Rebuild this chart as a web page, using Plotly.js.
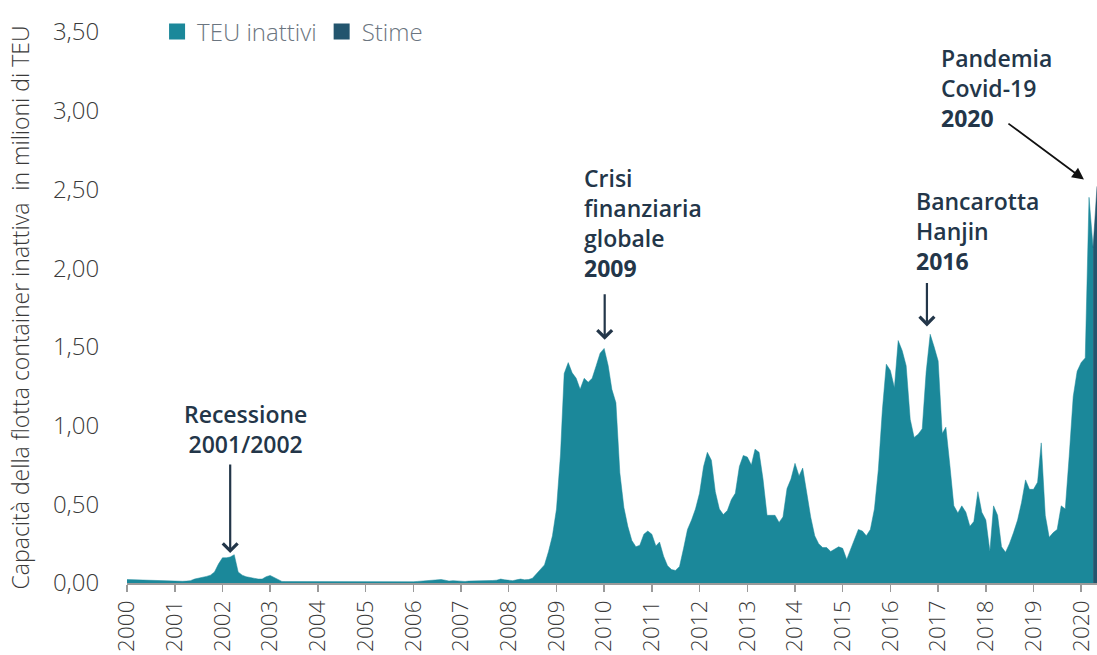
<!DOCTYPE html>
<html>
<head>
<meta charset="utf-8">
<script src="https://cdn.plot.ly/plotly-3.0.1.min.js"></script>
<style>
html,body{margin:0;padding:0;background:#fff;}
#chart{width:1097px;height:655px;}
</style>
</head>
<body>
<div id="chart"></div>
<script>
// Monthly idle container capacity (million TEU), Jan 2000 onwards
const startYear = 2000;
const idle2000 = [0.022,0.021,0.020,0.019,0.018,0.016,0.015,0.014,0.013,0.013,0.012,0.012];
const idle2001 = [0.013,0.012,0.011,0.012,0.015,0.025,0.030,0.035,0.042,0.050,0.070,0.120];
const idle2002 = [0.160,0.160,0.165,0.180,0.070,0.050,0.040,0.035,0.030,0.025,0.025,0.040];
const idle2003 = [0.048,0.035,0.018,0.010,0.009,0.009,0.008,0.008,0.008,0.008,0.008,0.008];
const idle2004 = [0.007,0.007,0.007,0.007,0.006,0.006,0.006,0.006,0.006,0.006,0.006,0.006];
const idle2005 = [0.005,0.005,0.005,0.005,0.005,0.005,0.005,0.005,0.005,0.005,0.006,0.006];
const idle2006 = [0.008,0.010,0.012,0.012,0.015,0.018,0.020,0.022,0.018,0.012,0.015,0.012];
const idle2007 = [0.010,0.010,0.012,0.012,0.013,0.014,0.015,0.015,0.016,0.018,0.025,0.020];
const idle2008 = [0.018,0.015,0.020,0.025,0.020,0.022,0.030,0.060,0.090,0.115,0.200,0.300];
const idle2009 = [0.470,0.820,1.330,1.400,1.335,1.300,1.230,1.300,1.275,1.300,1.380,1.460];
const idle2010 = [1.490,1.380,1.230,1.145,0.700,0.480,0.360,0.270,0.230,0.240,0.310,0.330];
const idle2011 = [0.310,0.235,0.260,0.170,0.110,0.085,0.080,0.105,0.220,0.340,0.400,0.470];
const idle2012 = [0.570,0.740,0.830,0.780,0.580,0.470,0.435,0.460,0.530,0.570,0.740,0.810];
const idle2013 = [0.800,0.750,0.850,0.830,0.660,0.430,0.430,0.430,0.385,0.420,0.600,0.660];
const idle2014 = [0.760,0.680,0.730,0.570,0.420,0.300,0.250,0.225,0.225,0.200,0.215,0.230];
const idle2015 = [0.220,0.150,0.210,0.280,0.340,0.330,0.300,0.340,0.470,0.720,1.100,1.390];
const idle2016 = [1.350,1.240,1.540,1.475,1.380,1.040,0.925,0.945,0.980,1.340,1.580,1.500];
const idle2017 = [1.410,0.950,0.990,0.745,0.490,0.445,0.490,0.450,0.360,0.390,0.580,0.450];
const idle2018 = [0.400,0.200,0.490,0.430,0.230,0.195,0.250,0.320,0.400,0.510,0.655,0.595];
const idle2019 = [0.595,0.640,0.890,0.430,0.290,0.320,0.340,0.490,0.470,0.805,1.185,1.345];
const idle2020 = [1.400,1.430,2.450,2.130];
// Estimates ("Stime") continue from the last observed month
const estimateDates = ['2020-04-01','2020-05-01'];
const estimateValues = [2.130, 2.520];

const yTickVals = [0,0.5,1,1.5,2,2.5,3,3.5];
const seriesNames = ['TEU inattivi','Stime'];
const yTitle = 'Capacità della flotta container inattiva  in milioni di TEU';

const idleValues = [].concat(idle2000,idle2001,idle2002,idle2003,idle2004,idle2005,idle2006,
  idle2007,idle2008,idle2009,idle2010,idle2011,idle2012,idle2013,idle2014,idle2015,idle2016,
  idle2017,idle2018,idle2019,idle2020);
const idleDates = idleValues.map(function(v,i){
  const y = startYear + Math.floor(i/12);
  const m = (i % 12) + 1;
  return y + '-' + (m < 10 ? '0' + m : m) + '-01';
});

const TEAL = '#1b889a';
const DARK = '#23556e';
const NAVY = '#233649';

const traces = [
  {x: idleDates, y: idleValues, type:'scatter', mode:'lines', fill:'tozeroy',
   line:{color:TEAL, width:0.5, shape:'linear'}, fillcolor:TEAL, showlegend:false, hoverinfo:'skip'},
  {x: estimateDates, y: estimateValues, type:'scatter', mode:'lines', fill:'tozeroy',
   line:{color:DARK, width:0.5}, fillcolor:DARK, showlegend:false, hoverinfo:'skip'},
  {x:[null], y:[null], type:'scatter', mode:'markers', name: seriesNames[0],
   marker:{symbol:'square', size:16, color:TEAL}},
  {x:[null], y:[null], type:'scatter', mode:'markers', name: seriesNames[1],
   marker:{symbol:'square', size:16, color:DARK}}
];

const annFont = {family:'Open Sans, sans-serif', size:23, color:NAVY, weight:600};
const arrowBase = {showarrow:true, arrowcolor:NAVY, arrowwidth:2.2, text:'', axref:'pixel', ayref:'pixel'};

const layout = {
  width:1097, height:655,
  margin:{l:127, r:0, t:32, b:72, pad:0},
  paper_bgcolor:'#ffffff', plot_bgcolor:'#ffffff',
  font:{family:'Open Sans, sans-serif', color:'#3a3a3a'},
  separators:',.',
  showlegend:true,
  legend:{orientation:'h', x:0.031, y:1.0, xanchor:'left', yanchor:'middle',
    font:{size:24, color:'#6b7580', family:'Open Sans, sans-serif', weight:300},
    itemwidth:30, tracegroupgap:0, bgcolor:'rgba(0,0,0,0)'},
  xaxis:{type:'date', range:['2000-01-01','2020-05-01'], dtick:'M12', tick0:'2000-01-01',
    tickformat:'%Y', tickangle:-90, ticks:'outside', ticklen:7, tickwidth:1.5, tickcolor:'#9a9a9a',
    showline:true, linecolor:'#9a9a9a', linewidth:1.5, showgrid:false, zeroline:false,
    tickfont:{size:22.5, color:'#3a3a3a', family:'Open Sans, sans-serif', weight:300}, fixedrange:true},
  yaxis:{range:[0,3.5], tickvals:yTickVals, tickformat:'.2f', ticks:'outside', ticklen:22,
    tickcolor:'rgba(0,0,0,0)', showline:false, showgrid:false, zeroline:false,
    tickfont:{size:24, color:'#3a3a3a', family:'Open Sans, sans-serif', weight:300},
    title:{text:yTitle, standoff:16, font:{size:23, color:'#3a3a3a', family:'Open Sans, sans-serif', weight:300}},
    fixedrange:true},
  annotations:[
    {xref:'paper', yref:'paper', x:(245-127)/970, y:(583-396)/551, xanchor:'center', yanchor:'top',
     text:'Recessione<br>2001/2002', showarrow:false, font:annFont, align:'center'},
    Object.assign({}, arrowBase, {x:'2002-03-01', y:0.19, ax:0, ay:-90, arrowhead:4, arrowsize:1.3}),

    {xref:'paper', yref:'paper', x:(582-127)/970, y:(583-160)/551, xanchor:'left', yanchor:'top',
     text:'Crisi<br>finanziaria<br>globale<br><b>2009</b>', showarrow:false, font:annFont, align:'left'},
    Object.assign({}, arrowBase, {x:'2010-01-05', y:1.545, ax:0, ay:-47, arrowhead:4, arrowsize:1.3}),

    {xref:'paper', yref:'paper', x:(914-127)/970, y:(583-183)/551, xanchor:'left', yanchor:'top',
     text:'Bancarotta<br>Hanjin<br><b>2016</b>', showarrow:false, font:annFont, align:'left'},
    Object.assign({}, arrowBase, {x:'2016-10-07', y:1.63, ax:0, ay:-45, arrowhead:4, arrowsize:1.3}),

    {xref:'paper', yref:'paper', x:(939-127)/970, y:(583-40)/551, xanchor:'left', yanchor:'top',
     text:'Pandemia<br>Covid-19<br><b>2020</b>', showarrow:false, font:annFont, align:'left'},
    Object.assign({}, arrowBase, {x:'2020-01-22', y:2.563, ax:-77, ay:-57, arrowhead:2, arrowsize:1.3, arrowcolor:'#111111', arrowwidth:1.8})
  ]
};

Plotly.newPlot('chart', traces, layout, {displayModeBar:false, staticPlot:true});
</script>
</body>
</html>
